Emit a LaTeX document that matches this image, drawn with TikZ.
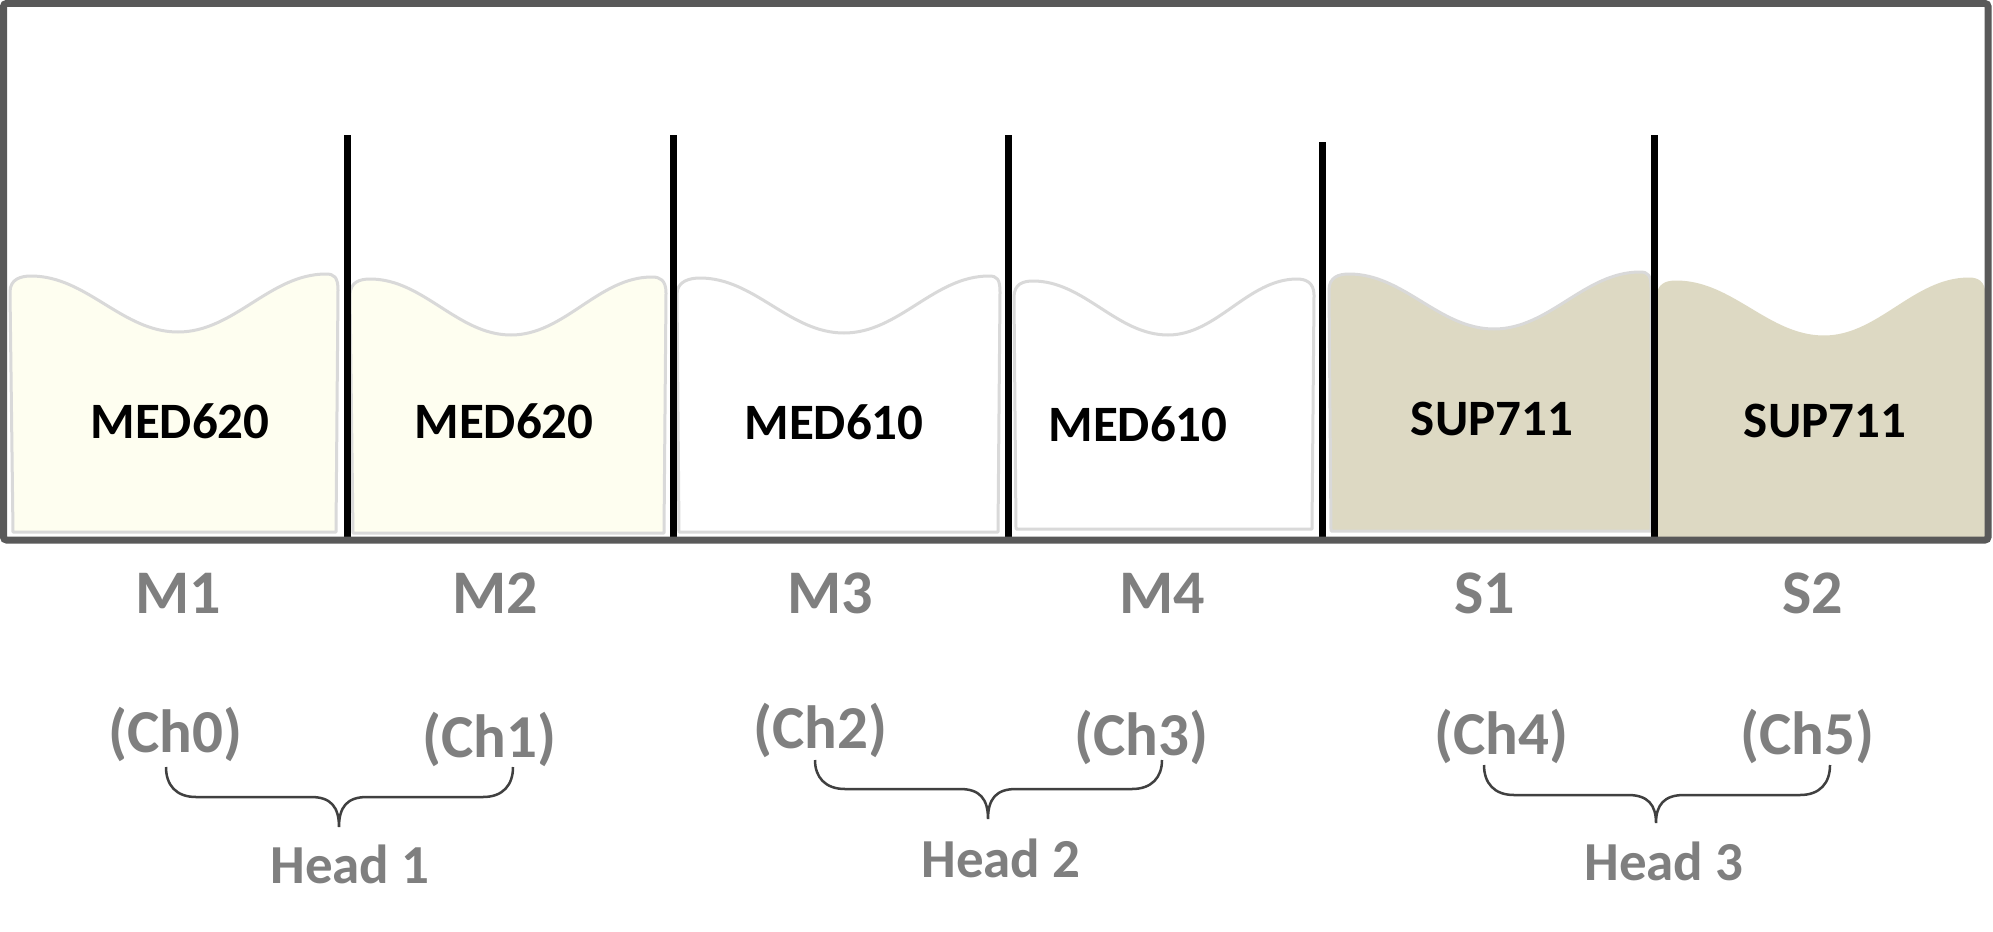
\documentclass[tikz,border=0pt]{standalone}
\usepackage{fontspec}
\setmainfont{Carlito}
\definecolor{framegrey}{HTML}{595959}
\definecolor{cupline}{HTML}{D9D9D9}
\definecolor{cupyellow}{HTML}{FEFEF0}
\definecolor{cupwhite}{HTML}{FFFFFF}
\definecolor{cuptan}{HTML}{DDD9C3}
\definecolor{labelgrey}{HTML}{7F7F7F}
\definecolor{bracegrey}{HTML}{404040}
\newcommand{\mybrace}[6]{% xL xR xC yT yH yTip
  \draw[bracestyle] (#1,#4) .. controls (#1,{#5-12}) and ({#1+10},#5) .. ({#1+30},#5)
    -- ({#3-28},#5) .. controls ({#3-8},#5) and (#3,{#5+10}) .. (#3,#6)
    .. controls (#3,{#5+10}) and ({#3+8},#5) .. ({#3+28},#5)
    -- ({#2-30},#5) .. controls ({#2-10},#5) and (#2,{#5-12}) .. (#2,#4);
}
\begin{document}
\begin{tikzpicture}[x=1pt,y=-1pt,
  cuptext/.style={anchor=base,inner sep=0pt,font=\bfseries\fontsize{51}{61}\selectfont,text=black},
  poslabel/.style={anchor=base,inner sep=0pt,font=\bfseries\fontsize{62}{74}\selectfont,text=labelgrey},
  chlabel/.style={anchor=base,inner sep=0pt,font=\bfseries\fontsize{61}{72}\selectfont,text=labelgrey},
  headlabel/.style={anchor=base,inner sep=0pt,font=\bfseries\fontsize{55}{66}\selectfont,text=labelgrey},
  divider/.style={line width=7pt,black},
  bracestyle/.style={line width=2.5pt,bracegrey},
  frame/.style={line width=7pt,framegrey,rounded corners=3pt}]
\useasboundingbox (0,0) rectangle (1993,931);
\fill[white] (0,0) rectangle (1993,931);

% cups
\foreach \fillc/\drawc/\xl/\xlb/\xpa/\ypa/\xt/\yt/\xpb/\ypb/\xr/\xrb/\yb in {
  cupyellow/cupline/10/13/31/276/178/332/326/274/338/336/532,
  cupyellow/cupline/350/353/370/279/511/335/652/277/666/664/533,
  cupwhite/cupline/677/679/700/278/844/333/989/276/1000/998/532,
  cupwhite/cupline/1014/1016/1033/281/1168/335/1297/279/1314/1312/529,
  cuptan/cupline/1329/1331/1349/274/1494/329/1640/272/1651/1651/531,
  cuptan/cuptan/1658/1658/1676/282/1824/337/1969/279/1984/1984/537}
{
  \path[fill=\fillc,draw=\drawc,line width=3pt,line join=round]
    (\xlb,\yb) -- (\xl,{\ypa+16})
    .. controls (\xl,{\ypa+3}) and ({\xpa-10},\ypa) .. (\xpa,\ypa)
    .. controls ({\xpa+0.38*(\xt-\xpa)},\ypa) and ({\xt-0.38*(\xt-\xpa)},\yt) .. (\xt,\yt)
    .. controls ({\xt+0.38*(\xpb-\xt)},\yt) and ({\xpb-0.38*(\xpb-\xt)},\ypb) .. (\xpb,\ypb)
    .. controls ({\xpb+8},\ypb) and (\xr,{\ypb+3}) .. (\xr,{\ypb+16})
    -- (\xrb,\yb) -- cycle;
}

% dividers
\coordinate (d1t) at (347,135);  \coordinate (d1b) at (347,537);
\coordinate (d2t) at (673,135);  \coordinate (d2b) at (673,537);
\coordinate (d3t) at (1008,135); \coordinate (d3b) at (1008,537);
\coordinate (d4t) at (1322,142); \coordinate (d4b) at (1322,537);
\coordinate (d5t) at (1654,135); \coordinate (d5b) at (1654,537);
\foreach \d in {1,...,5} { \draw[divider] (d\d t) -- (d\d b); }

% frame
\draw[frame] (3.5,3.5) rectangle (1988,540);

% cup texts
\node[cuptext] (c1) at (180,438) {MED620};
\node[cuptext] (c2) at (504,438) {MED620};
\node[cuptext] (c3) at (834,439) {MED610};
\node[cuptext] (c4) at (1138,441) {MED610};
\node[cuptext] (c5) at (1492,435) {SUP711};
\node[cuptext] (c6) at (1825,437) {SUP711};

% position labels
\node[poslabel] (m1) at (178,613) {M1};
\node[poslabel] (m2) at (495,613) {M2};
\node[poslabel] (m3) at (830,613) {M3};
\node[poslabel] (m4) at (1162,613) {M4};
\node[poslabel] (s1) at (1485,613) {S1};
\node[poslabel] (s2) at (1813,613) {S2};

% channel labels
\node[chlabel] (ch0) at (175,752) {(Ch0)};
\node[chlabel] (ch1) at (489,757) {(Ch1)};
\node[chlabel] (ch2) at (820,748) {(Ch2)};
\node[chlabel] (ch3) at (1141,755) {(Ch3)};
\node[chlabel] (ch4) at (1501,754) {(Ch4)};
\node[chlabel] (ch5) at (1807,754) {(Ch5)};

% braces
\mybrace{166}{513}{339}{767}{797}{827}
\mybrace{815}{1162}{988}{760}{789}{819}
\mybrace{1484}{1830}{1656}{765}{795}{823}

% head labels
\node[headlabel] (h1) at (350,883) {Head 1};
\node[headlabel] (h2) at (1001,877) {Head 2};
\node[headlabel] (h3) at (1664,880) {Head 3};
\end{tikzpicture}
\end{document}
